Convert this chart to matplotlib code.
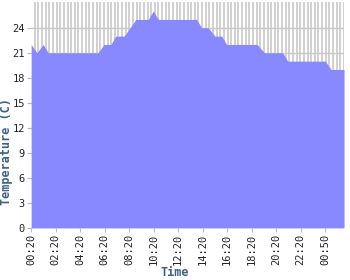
import numpy as np
import matplotlib
matplotlib.use("Agg")
import matplotlib.pyplot as plt

# hours since 00:20, temperature in C
hours = [0.0, 0.47, 0.98, 1.39, 5.47, 5.94, 6.51, 6.90, 7.60, 8.55, 9.56, 9.97,
         10.38, 13.51, 13.92, 14.46, 15.01, 15.56, 15.96, 18.46, 19.04, 20.54,
         20.95, 24.02, 24.48, 25.55]
temps = [22, 21, 22, 21, 21, 22, 22, 23, 23, 25, 25, 26,
         25, 25, 24, 24, 23, 23, 22, 22, 21, 21,
         20, 20, 19, 19]
tick_labels = ["00:20", "02:20", "04:20", "06:20", "08:20", "10:20", "12:20",
               "14:20", "16:20", "18:20", "20:20", "22:20", "00:50"]

fig = plt.figure(figsize=(3.5, 2.8), dpi=100)
ax = fig.add_axes([0.089, 0.186, 0.894, 0.807])

ax.fill_between(hours, temps, 0, color="#8888ff", linewidth=0, zorder=2)

ax.set_xlim(0, 25.55)
ax.set_ylim(0, 27.1)

# dense vertical grid and horizontal grid every 3 degrees
ax.set_xticks(np.arange(0, 25.55, 0.297), minor=True)
ax.set_xticks(np.arange(0, 25, 2))
ax.set_xticklabels(tick_labels, rotation=90, family="DejaVu Sans Mono",
                   fontsize=7.5, color="#222222")
ax.set_yticks(np.arange(0, 25, 3))
ax.set_yticklabels([str(v) for v in range(0, 25, 3)], family="DejaVu Sans Mono",
                   fontsize=7.5, color="#222222")
ax.grid(True, which="minor", axis="x", color="#c8c8c8", linewidth=1.2, zorder=0)
ax.grid(True, which="major", axis="y", color="#c8c8c8", linewidth=1.0, zorder=0)
ax.set_axisbelow(True)

ax.tick_params(axis="both", which="major", length=3, width=0.8, color="#bbbbbb", pad=1.5)
ax.tick_params(axis="x", which="minor", length=0)
for s in ax.spines.values():
    s.set_visible(False)

# axis titles placed in figure coordinates
fig.text(175 / 350, 1 - 272 / 280, "Time", fontsize=8.5, fontweight="bold",
         color="#3d6185", family="DejaVu Sans Mono", ha="center", va="center")
fig.text(7 / 350, 1 - 152 / 280, "Temperature (C)", fontsize=8.5, fontweight="bold",
         color="#3d6185", family="DejaVu Sans Mono", ha="center", va="center",
         rotation=90)

fig.savefig("out.png", dpi=100)
